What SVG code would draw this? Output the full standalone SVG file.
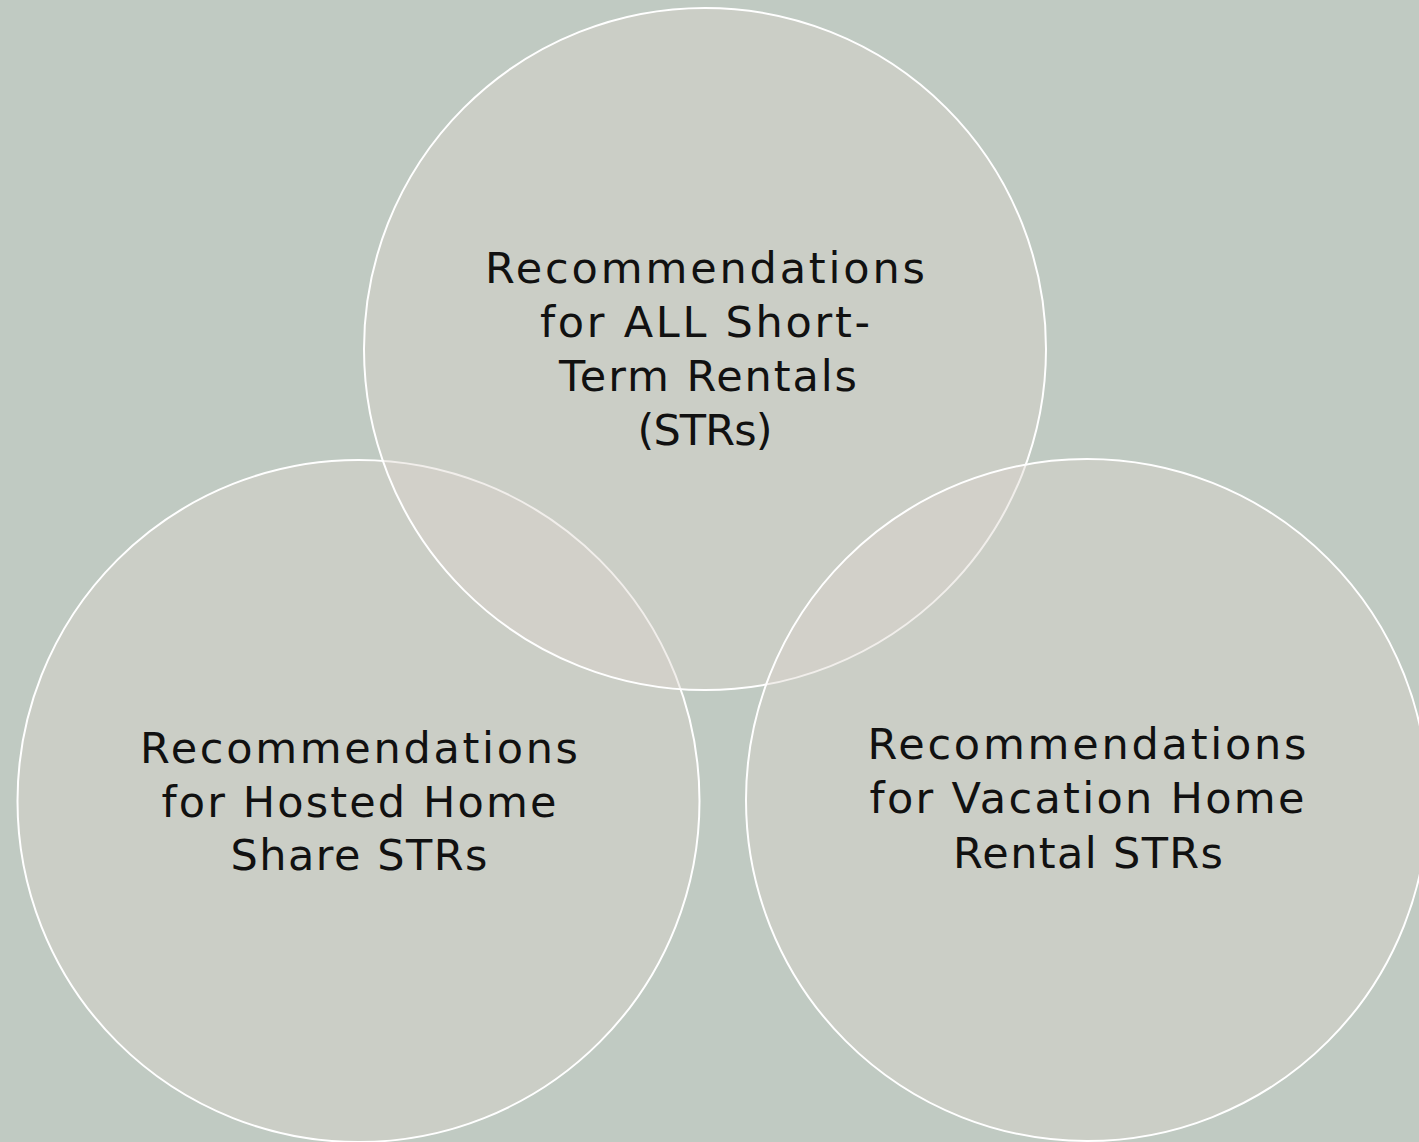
<svg xmlns="http://www.w3.org/2000/svg" width="1419" height="1142" viewBox="0 0 1419 1142">
  <style>
    .c { fill: #DCD4CC; fill-opacity: 0.4; stroke: #FFFFFF; stroke-width: 2; }
    .t { font-family: "DejaVu Sans", "Liberation Sans", sans-serif; font-size: 43px; fill: #111111; text-anchor: middle; }
  </style>
  <rect x="0" y="0" width="1419" height="1142" fill="#C0CAC2"/>
  <g id="connectors"></g>
  <g id="node-hosted">
    <circle class="c" cx="358.5" cy="801" r="341"/>
    <text class="t" x="359" y="763" textLength="438" lengthAdjust="spacing">Recommendations</text>
    <text class="t" x="359" y="817" textLength="395" lengthAdjust="spacing">for Hosted Home</text>
    <text class="t" x="359" y="870" textLength="257" lengthAdjust="spacing">Share STRs</text>
  </g>
  <g id="node-all">
    <circle class="c" cx="705" cy="349" r="341"/>
    <text class="t" x="705" y="283" textLength="440" lengthAdjust="spacing">Recommendations</text>
    <text class="t" x="705" y="337" textLength="330" lengthAdjust="spacing">for ALL Short-</text>
    <text class="t" x="708" y="391" textLength="298" lengthAdjust="spacing">Term Rentals</text>
    <text class="t" x="705" y="445" textLength="135" lengthAdjust="spacing">(STRs)</text>
  </g>
  <g id="node-vacation">
    <circle class="c" cx="1087" cy="800" r="341"/>
    <text class="t" x="1087" y="759" textLength="439" lengthAdjust="spacing">Recommendations</text>
    <text class="t" x="1087" y="813" textLength="435" lengthAdjust="spacing">for Vacation Home</text>
    <text class="t" x="1088" y="868" textLength="270" lengthAdjust="spacing">Rental STRs</text>
  </g>
</svg>
